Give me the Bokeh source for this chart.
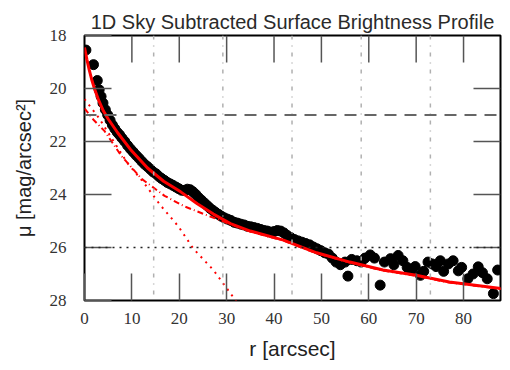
import math
from bokeh.plotting import figure
from bokeh.models import Range1d, FixedTicker, Span
from bokeh.embed import file_html
from bokeh.resources import INLINE

# ---- data ----
r_data = [0.3, 1.9, 2.7, 3.1, 3.5, 3.9, 4.4, 4.9, 5.4, 5.9, 6.4, 6.9, 7.4, 7.9, 8.5, 9.1, 9.7,
          10.3, 10.9, 11.5, 12.1, 12.7, 13.3, 13.9, 14.5, 15.1, 15.7, 16.3, 16.9, 17.5, 18.1,
          18.7, 19.3, 19.9, 20.5, 21.1, 21.7, 22.3, 22.9, 23.5, 24.1, 24.7, 25.3, 25.9, 26.5,
          27.1, 27.7, 28.3, 28.9, 29.5, 30.2, 30.9, 31.6, 32.3, 33.0, 33.7, 34.4, 35.1, 35.8,
          36.5, 37.2, 37.9, 38.6, 39.3, 40.0, 40.7, 41.4, 42.1, 42.8, 43.5, 44.3, 45.1, 45.9,
          46.7, 47.5, 48.3, 49.1, 49.9, 50.7, 51.5, 52.3, 53.1, 54.0, 55.0, 55.6, 56.4, 57.5,
          58.4, 59.2, 60.3, 61.2, 62.4, 63.3, 64.6, 65.3, 66.2, 67.2, 68.1, 69.0, 69.8, 70.9,
          71.6, 72.5, 73.4, 74.2, 75.1, 75.8, 76.8, 77.8, 78.9, 79.6, 80.9, 82.0, 83.1, 84.0,
          85.0, 86.3, 87.2]
mu_data = [18.55, 19.1, 19.7, 20.05, 20.3, 20.55, 20.8, 21.0, 21.2, 21.38, 21.52, 21.65, 21.75,
           21.87, 22.0, 22.15, 22.28, 22.4, 22.52, 22.63, 22.75, 22.86, 22.95, 23.05, 23.15,
           23.22, 23.32, 23.4, 23.47, 23.55, 23.6, 23.66, 23.72, 23.78, 23.84, 23.85, 23.8,
           23.82, 23.9, 24.0, 24.12, 24.22, 24.32, 24.42, 24.52, 24.6, 24.68, 24.75, 24.82,
           24.88, 24.93, 24.98, 25.05, 25.08, 25.12, 25.15, 25.2, 25.22, 25.25, 25.28, 25.32,
           25.36, 25.38, 25.42, 25.4, 25.36, 25.38, 25.45, 25.55, 25.62, 25.7, 25.75, 25.8,
           25.85, 25.9, 25.98, 26.05, 26.12, 26.2, 26.25, 26.4, 26.55, 26.65, 26.55, 27.08,
           26.45, 26.5, 26.55, 26.4, 26.28, 26.4, 27.42, 26.55, 26.42, 26.65, 26.3, 26.5, 26.75,
           26.85, 26.72, 27.05, 26.9, 26.55, 26.62, 26.72, 26.5, 26.9, 26.62, 26.5, 26.88, 26.75,
           27.18, 27.0, 26.73, 26.95, 27.18, 27.74, 26.85]

r_total = [0, 0.5, 1, 1.5, 2, 3, 4, 5, 7, 9.7, 13.3, 16.7, 20.3, 23.8, 27.2, 30.8, 35, 42, 49,
           56, 63, 70, 77, 88]
mu_total = [18.45, 18.9, 19.3, 19.65, 19.95, 20.45, 20.85, 21.15, 21.67, 22.3, 23.0, 23.5, 23.9,
            24.35, 24.74, 25.1, 25.38, 25.72, 26.2, 26.55, 26.85, 27.05, 27.3, 27.55]

r_comp1 = [0, 2, 4.2, 7.8, 12, 16.9, 21.1, 26.8, 30.8, 35, 42, 49, 56, 63, 70, 77, 88]
mu_comp1 = [20.75, 21.2, 21.6, 22.55, 23.4, 24.05, 24.45, 24.85, 25.12, 25.4, 25.74, 26.22,
            26.57, 26.87, 27.07, 27.32, 27.57]

r_comp2 = [0, 3, 6, 9, 12.5, 16, 19.8, 23, 27.2, 31.5, 32.5]
mu_comp2 = [20.4, 21.1, 21.95, 22.8, 23.55, 24.4, 25.2, 26.05, 26.85, 27.9, 28.15]

x_ticks = [0, 10, 20, 30, 40, 50, 60, 70, 80]
y_ticks = [18, 20, 22, 24, 26, 28]
v_lines = [14.6, 29.2, 43.8, 58.4, 73.0]
mu_dashed = 21
mu_dotted = 26
r_min, r_max = 0, 87.8
mu_top, mu_bottom = 18, 28

TICK_FONT = "Liberation Serif"
SANS = "Liberation Sans"
TICK_COLOR = "#555555"
TICK_LEN = 27

p = figure(width=502, height=362, output_backend="svg", toolbar_location=None,
           x_range=Range1d(r_min, r_max), y_range=Range1d(mu_bottom, mu_top),
           min_border_left=84, min_border_right=2, min_border_top=35, min_border_bottom=60,
           title="1D Sky Subtracted Surface Brightness Profile")
p.title.align = "center"
p.title.text_font = SANS
p.title.text_font_size = "20px"
p.title.text_font_style = "normal"
p.title.text_color = "#2a2a2a"
p.title.offset = 2
p.title.standoff = 6

p.grid.visible = False
p.outline_line_color = "black"
p.outline_line_width = 2
p.background_fill_color = "white"
p.border_fill_color = "white"

for ax, ticks in ((p.xaxis[0], x_ticks), (p.yaxis[0], y_ticks)):
    ax.ticker = FixedTicker(ticks=ticks)
    ax.major_tick_in = TICK_LEN
    ax.major_tick_out = 0
    ax.minor_tick_line_color = None
    ax.major_tick_line_color = TICK_COLOR
    ax.major_tick_line_width = 1.5
    ax.axis_line_color = None
    ax.major_label_text_font = TICK_FONT
    ax.major_label_text_font_size = "17px"
    ax.major_label_text_color = "#333333"
    ax.axis_label_text_font = SANS
    ax.axis_label_text_font_style = "normal"
    ax.axis_label_text_color = "#222222"

p.xaxis[0].major_label_standoff = 12
p.yaxis[0].major_label_standoff = 18
p.xaxis[0].axis_label = "r [arcsec]"
p.yaxis[0].axis_label = "μ [mag/arcsec²]"
p.xaxis[0].axis_label_text_font_size = "21px"
p.yaxis[0].axis_label_text_font_size = "20px"
p.xaxis[0].axis_label_standoff = 10
p.yaxis[0].axis_label_standoff = 12

# mirrored ticks on the top and right edges (screen-length rays from the tick arrays)
top_x = x_ticks[1:]
p.ray(x=top_x, y=[mu_top] * len(top_x), length=TICK_LEN, length_units="screen",
      angle=-math.pi / 2, line_color=TICK_COLOR, line_width=1.5)
right_y = y_ticks[1:-1]
p.ray(x=[r_max] * len(right_y), y=right_y, length=TICK_LEN, length_units="screen",
      angle=math.pi, line_color=TICK_COLOR, line_width=1.5)

# reference lines
for xv in v_lines:
    p.add_layout(Span(location=xv, dimension="height", line_color="#b0b0b0",
                      line_width=1.5, line_dash="4 6 1 6"))
p.add_layout(Span(location=mu_dashed, dimension="width", line_color="#666666",
                  line_width=2, line_dash="12 8"))
p.add_layout(Span(location=mu_dotted, dimension="width", line_color="#222222",
                  line_width=1.5, line_dash="2 5"))

# data and model
p.scatter(r_data, mu_data, size=10, marker="circle", fill_color="black", line_color="black")
p.line(r_comp2, mu_comp2, line_color="red", line_width=2, line_dash="2 5")
p.line(r_comp1, mu_comp1, line_color="red", line_width=2, line_dash="6 3 1 3")
p.line(r_total, mu_total, line_color="red", line_width=3)

open("out.html", "w").write(file_html(p, INLINE))
